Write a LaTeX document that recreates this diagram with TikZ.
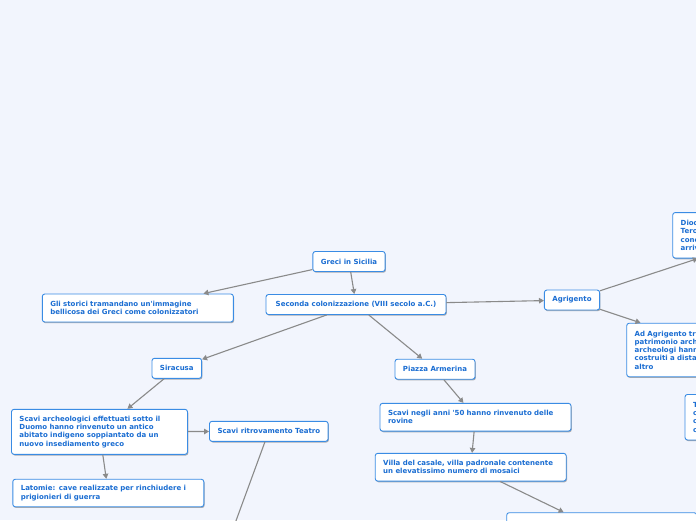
\documentclass[tikz,border=0pt]{standalone}
\usepackage{fontspec}
\setmainfont[Ligatures=TeXOff]{DejaVu Sans}
\usetikzlibrary{arrows.meta,shadows}
\definecolor{bgc}{HTML}{F2F5FD}
\definecolor{bordc}{HTML}{3A8CE4}
\definecolor{txtc}{HTML}{1A6DD2}
\definecolor{linec}{HTML}{8A8A8A}
\tikzset{
 mbox/.style={draw=bordc, line width=0.9pt, rounded corners=2.5pt, fill=white, text=txtc,
   font=\fontsize{7}{8.3}\selectfont\bfseries, inner xsep=8pt, inner ysep=4pt, minimum height=20pt,
   drop shadow={opacity=0.3, shadow xshift=0.8pt, shadow yshift=-1.2pt, fill=black}},
 tbox/.style={mbox, align=left, text width=#1},
 conn/.style={draw=linec, line width=1.1pt, -{Triangle[length=5pt,width=5.5pt]}},
 plain/.style={draw=linec, line width=1.1pt},
}
\begin{document}
\begin{tikzpicture}[x=1pt,y=-1pt]
\useasboundingbox (0,0) rectangle (696,520);
\fill[bgc] (0,0) rectangle (696,520);
\clip (0,0) rectangle (696,520);

\node[mbox] (greci) at (349,261.5) {Greci in Sicilia};
\node[mbox, minimum width=180pt] (seconda) at (356,304.5) {Seconda colonizzazione (VIII secolo a.C.)};
\node[tbox=175pt, minimum height=28pt] (storici) at (137.8,308) {Gli storici tramandano un'immagine\\bellicosa dei Greci come colonizzatori};
\node[mbox] (agrigento) at (572,300) {Agrigento};
\node[tbox=175pt, minimum height=45.5pt] (diod) at (768.2,235.3) {Diodoro Siculo\\Terone\\concesse\\arrivo};
\node[tbox=175pt, minimum height=53.5pt] (adagr) at (722.2,350) {Ad Agrigento troviamo un\\patrimonio archeologico\\archeologi hanno\\costruiti a distanza\\altro};
\node[tbox=175pt, minimum height=45.5pt] (tbx) at (780.5,417.2) {T\\c\\c\\c};
\node[mbox] (siracusa) at (176.8,368.3) {Siracusa};
\node[mbox] (piazza) at (435,369.2) {Piazza Armerina};
\node[tbox=160pt, minimum height=45pt] (scavi) at (99.5,431.8) {Scavi archeologici effettuati sotto il\\Duomo hanno rinvenuto un antico\\abitato indigeno soppiantato da un\\nuovo insediamento greco};
\node[mbox] (teatro) at (268.8,431.3) {Scavi ritrovamento Teatro};
\node[tbox=175pt, minimum height=27.5pt] (latomie) at (108.3,493) {Latomie: cave realizzate per rinchiudere i\\prigionieri di guerra};
\node[tbox=175pt, minimum height=27.7pt] (anni) at (475.5,417.2) {Scavi negli anni '50 hanno rinvenuto delle\\rovine};
\node[tbox=175pt, minimum height=27.7pt] (villa) at (470.7,467.2) {Villa del casale, villa padronale contenente\\un elevatissimo numero di mosaici};
\node[mbox, minimum width=190pt, minimum height=36pt] (bottom) at (601.7,530.7) {};
\coordinate (teatrochild) at (213.8,581.3);

\draw[conn] (greci) -- (storici);
\draw[conn] (greci) -- (seconda);
\draw[conn] (seconda) -- (agrigento);
\draw[conn] (seconda) -- (siracusa);
\draw[conn] (seconda) -- (piazza);
\draw[conn] (agrigento) -- (diod);
\draw[conn] (agrigento) -- (adagr);
\draw[conn] (siracusa) -- (scavi);
\draw[conn] (scavi) -- (teatro);
\draw[conn] (scavi) -- (latomie);
\draw[plain] (teatro) -- (teatrochild);
\draw[conn] (piazza) -- (anni);
\draw[conn] (anni) -- (villa);
\draw[conn] (villa) -- (bottom);
\end{tikzpicture}
\end{document}
